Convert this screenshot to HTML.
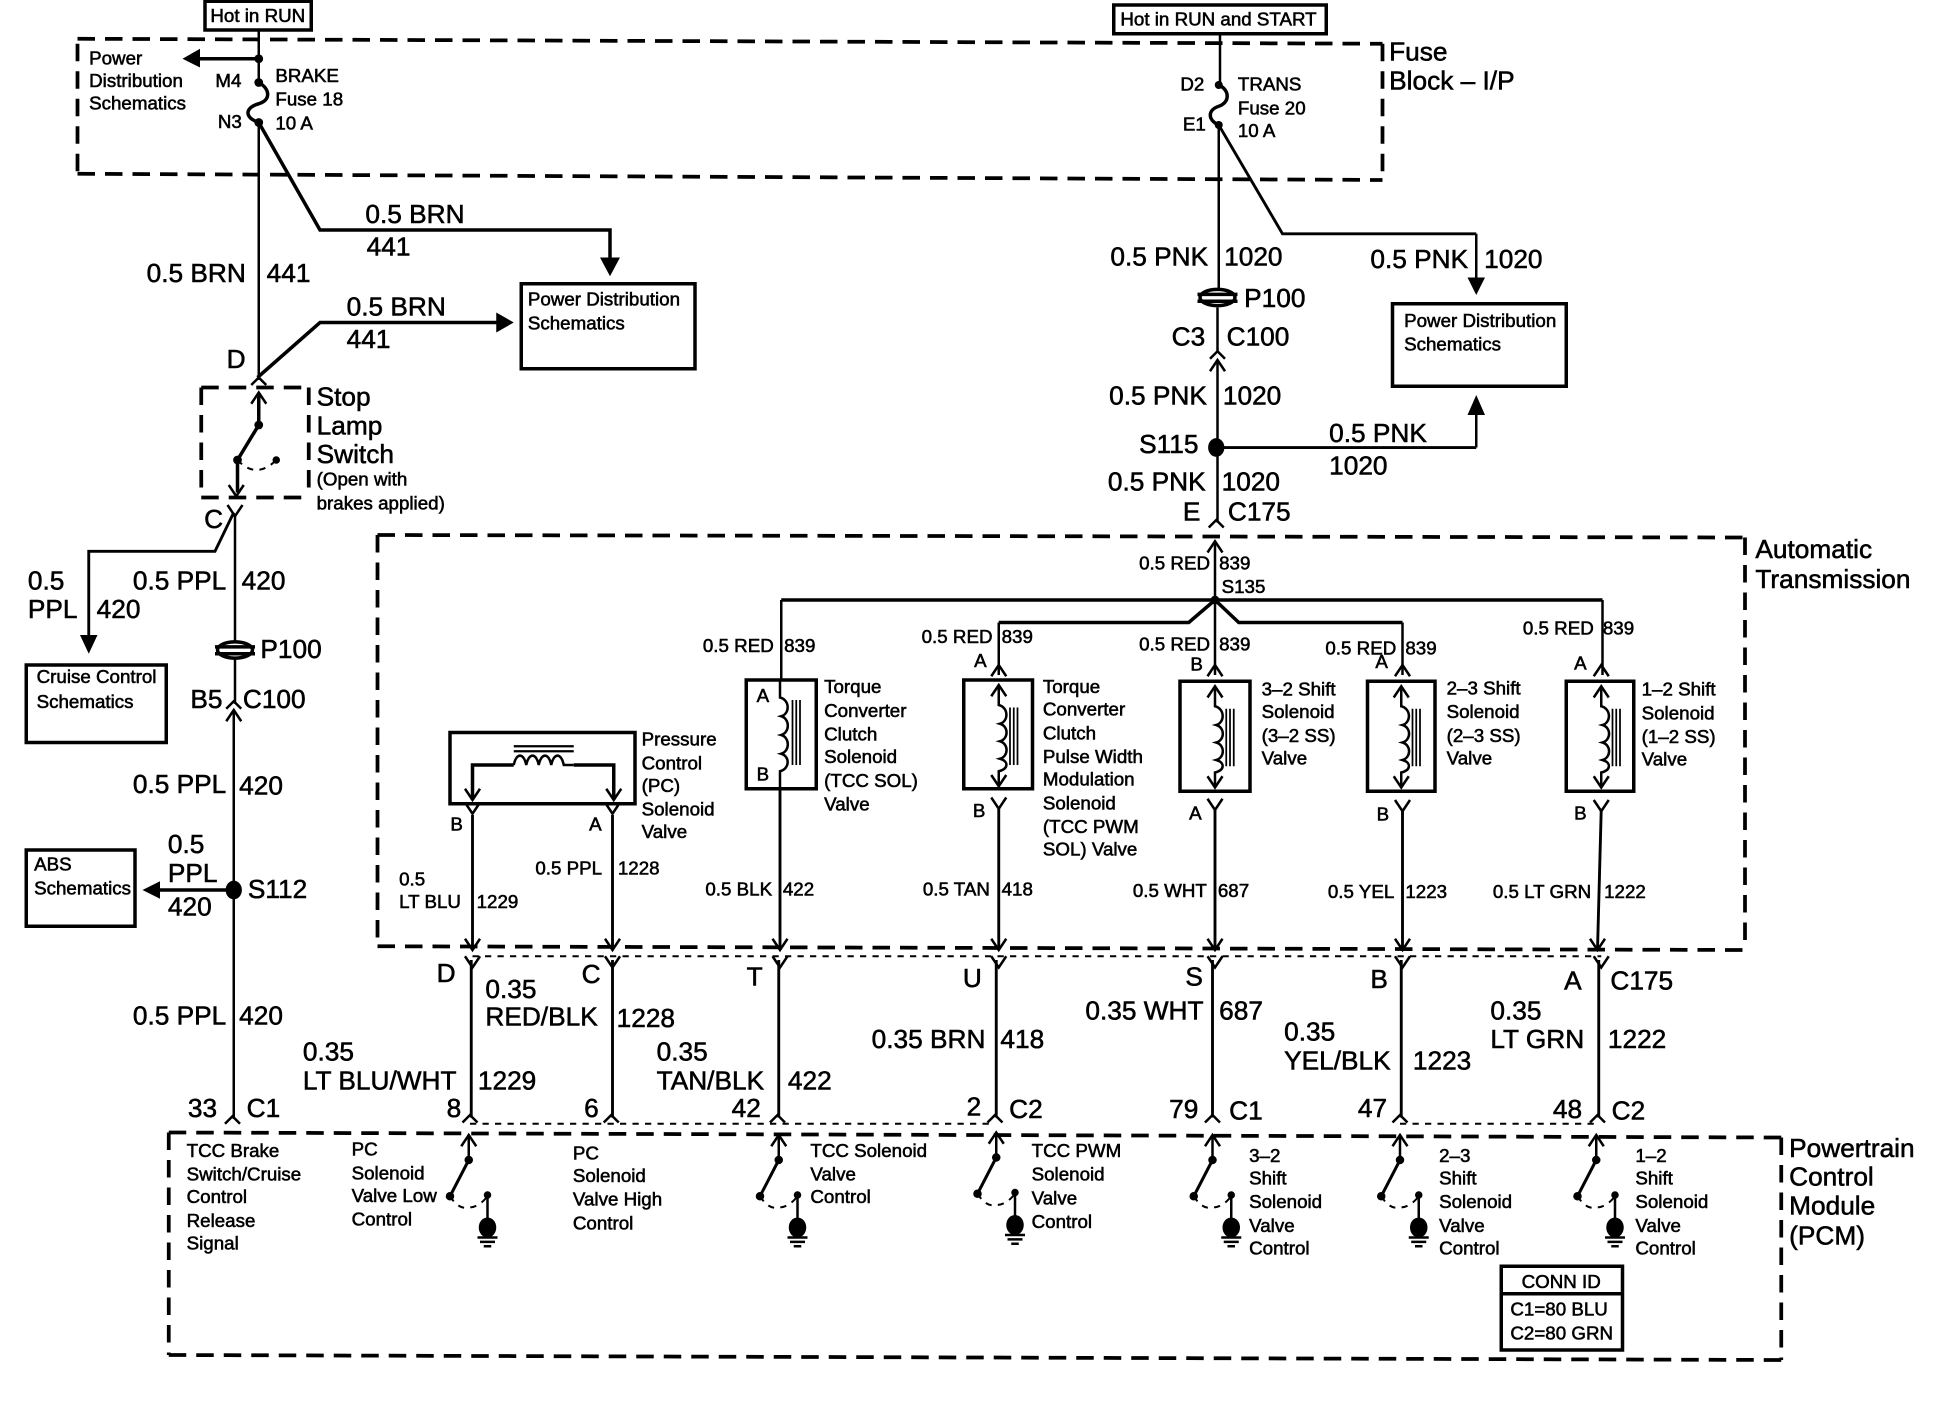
<!DOCTYPE html>
<html><head><meta charset="utf-8"><style>
html,body{margin:0;padding:0;background:#fff;width:1958px;height:1408px;overflow:hidden}
svg{display:block}
text{font-family:"Liberation Sans",sans-serif;fill:#000;stroke:#000;stroke-width:.45;dominant-baseline:central;transform:translate(-.7px,-.8px)}
.b{font-size:21px}.s{font-size:15px}
.w{fill:none;stroke:#000;stroke-width:2}
.m{fill:none;stroke:#000;stroke-width:2.3}
.t{fill:none;stroke:#000;stroke-width:2.8}
.d{fill:none;stroke:#000;stroke-width:3;stroke-dasharray:14 8}
.f{fill:none;stroke:#000;stroke-width:1.6;stroke-dasharray:5 5}
</style></head><body>
<svg width="1958" height="1408" viewBox="0 0 1566.4 1126.4" xmlns="http://www.w3.org/2000/svg">
<defs>
<path id="up" d="M-6,6 L0,0 L6,6" fill="none" stroke="#000" stroke-width="2"/>
<path id="dn" d="M-6,-9 L0,0 L6,-9" fill="none" stroke="#000" stroke-width="2"/>
<path id="pu" d="M-6,9 L0,0 L6,9" fill="none" stroke="#000" stroke-width="2"/>
<g id="sol">
<path d="M0,-2 V14 C8,16 8,27 1,29 C8,31 8,41 1,43 C8,45 8,55 1,57 C8,59 8,65 0,67 V78" fill="none" stroke="#000" stroke-width="2"/>
<path d="M9,16 V62 M12,16 V62 M15,16 V62" fill="none" stroke="#000" stroke-width="1.4"/>
<use href="#pu" x="0" y="-2"/><use href="#dn" x="0" y="79"/>
</g>
<g id="sw">
<path d="M0,0 V-19" class="w"/><use href="#pu" y="-20"/>
<path d="M0,0 L-15,29" fill="none" stroke="#000" stroke-width="2.4"/>
<circle cx="0" cy="0" r="3.4"/><circle cx="-15" cy="29" r="3.4"/>
<circle cx="15" cy="28" r="3"/><path d="M15,28 V50" class="w"/>
<ellipse cx="15" cy="54" rx="7" ry="8"/>
<path d="M7,62 H23 M9,65.5 H21 M12,69 H18" class="w"/>
<path d="M-15,29 Q-8,40 0,38 Q8,38 15,29" class="f"/>
</g>
<g id="p100">
<ellipse cx="0" cy="0" rx="14" ry="6.5" fill="#fff" stroke="#000" stroke-width="2.8"/>
<path d="M-16,-2.5 H16 M-16,3 H16" fill="none" stroke="#000" stroke-width="2.8"/>
</g>
</defs>

<!-- dashed enclosures -->
<path class="d" d="M62,31 L1106,35 M1106,35 V144 M62,139 L1106,144 M62,35 V139"/>
<path class="d" d="M161,310 H247 M247,310 V398 M161,398 H247 M161,310 V398"/>
<path class="d" d="M302,428 L1396,430 M1396,430 V760 M302,757 L1396,760 M302,428 V757"/>
<path class="d" d="M135,906 L1425,910 M1425,910 V1088 M135,1084 L1425,1088 M135,906 V1084"/>
<path class="f" d="M378,765 H1281 M376,899 H796 M1120,899 H1278"/>

<!-- boxes -->
<g class="t">
<rect x="164" y="1" width="85" height="23"/>
<rect x="891" y="4" width="170" height="23"/>
<rect x="417" y="227" width="139" height="68"/>
<rect x="1114" y="243" width="139" height="66"/>
<rect x="21" y="532" width="112" height="62"/>
<rect x="21" y="680" width="87" height="61"/>
<rect x="360" y="586" width="148" height="57"/>
<rect x="597" y="544" width="56" height="87"/>
<rect x="771" y="544" width="55" height="87"/>
<rect x="944" y="545" width="56" height="88"/>
<rect x="1094" y="545" width="54" height="88"/>
<rect x="1253" y="545" width="54" height="88"/>
<rect x="1201" y="1013" width="97" height="67"/>
<path d="M1201,1035 H1298"/>
</g>

<!-- left wires -->
<path class="w" d="M207,24 V66 M207,98 V304"/>
<path class="t" d="M207,47 H158"/><path d="M160,39 L146,47 L160,54 Z"/>
<path d="M207,66 C216,71 217,80 207,83 C196,86 195,94 207,98" class="t"/>
<circle cx="207" cy="47" r="3.5"/><circle cx="207" cy="66" r="3.5"/><circle cx="207" cy="98" r="3.5"/>
<path class="t" d="M207,98 L256,184 H488 V208"/><path d="M480,206 H496 L488,221 Z"/>
<path class="t" d="M206,302 L256,258 H400"/><path d="M397,250 L411,258 L397,266 Z"/>
<use href="#up" x="207" y="302"/>
<path class="t" d="M207,340 V316"/><use href="#pu" x="207" y="314"/>
<path class="t" d="M207,340 L190,368 V394"/><use href="#dn" x="189" y="397"/>
<circle cx="207" cy="340" r="3.5"/><circle cx="190" cy="368" r="3.5"/><circle cx="221" cy="368" r="3"/>
<path class="f" d="M190,368 Q205,384 221,368"/>
<use href="#dn" x="188" y="413"/>
<path class="w" d="M188,413 V514 M188,526 V563 M187,570 V895"/>
<path class="m" d="M187,410 L172,441 H71 V510"/><path d="M64,508 H78 L71,523 Z"/>
<use href="#p100" x="188" y="520"/>
<use href="#up" x="187" y="561"/><use href="#pu" x="187" y="568"/>
<ellipse cx="187" cy="712" rx="6.5" ry="7.5"/>
<path class="t" d="M187,712 H126"/><path d="M128,705 L114,712 L128,719 Z"/>
<use href="#up" x="186" y="893"/>

<!-- right fuse wires -->
<path class="w" d="M976,27 V68 M975,100 V231 M974,246 V282 M974,290 V418 M972,434 V480"/>
<path d="M975,68 C984,72 984,82 975,85 C966,88 966,96 975,100" class="t"/>
<circle cx="975" cy="68" r="3.2"/><circle cx="975" cy="100" r="3.2"/>
<path class="m" d="M975,100 L1026,187 H1181"/><path class="w" d="M1181,187 V224"/><path d="M1174,222 H1188 L1181,236 Z"/>
<use href="#p100" x="974" y="238"/>
<use href="#up" x="974" y="281"/><use href="#pu" x="974" y="288"/>
<ellipse cx="973" cy="358" rx="6.5" ry="7.5"/>
<path class="m" d="M973,358 H1181"/><path class="w" d="M1181,358 V330"/><path d="M1174,332 H1188 L1181,316 Z"/>
<use href="#up" x="973" y="416"/><use href="#pu" x="972" y="433"/>

<!-- transmission harness -->
<circle cx="972" cy="480" r="3.5"/>
<path class="t" d="M625,480 H1282"/>
<path class="w" d="M625,480 V545 M1282,480 V540 M972,480 V540 M799,498 V540 M1122,498 V540"/>
<path class="t" d="M972,480 L951,498 H799 M972,480 L991,498 H1122"/>
<use href="#pu" x="799" y="532"/><use href="#pu" x="972" y="532"/><use href="#pu" x="1122" y="532"/><use href="#pu" x="1281" y="532"/>

<!-- solenoids -->
<path d="M624,545 V558 C632,560 632,571 625,573 C632,575 632,586 625,588 C632,590 632,601 625,603 C632,605 632,615 624,617 V632" fill="none" stroke="#000" stroke-width="2"/>
<path d="M634,560 V612 M637,560 V612 M640,560 V612" class="w" style="stroke-width:1.4"/>
<use href="#sol" x="799" y="550"/><use href="#sol" x="972" y="551"/><use href="#sol" x="1121" y="551"/><use href="#sol" x="1281" y="551"/>

<!-- pressure control -->
<path class="t" d="M378,640 V612 H411 M459,612 H491 V640"/>
<path d="M411,612 C413,602 419,602 421,612 C423,602 429,602 431,612 C433,602 439,602 441,612 C443,602 449,602 451,612 L459,612" fill="none" stroke="#000" stroke-width="2"/>
<path d="M411,597 H459 M411,601 H459" class="t" style="stroke-width:1.8"/>
<use href="#dn" x="378" y="640"/><use href="#dn" x="491" y="640"/>

<!-- columns -->
<path class="m" d="M378,652 V760 M490,652 V760 M624,631 V760 M799,646 V760 M972,647 V760 M1122,647 V760 M1281,647 L1278,760"/>
<g>
<use href="#dn" x="378" y="651"/><use href="#dn" x="490" y="651"/><use href="#dn" x="799" y="647"/><use href="#dn" x="972" y="648"/><use href="#dn" x="1122" y="649"/><use href="#dn" x="1281" y="649"/>
<use href="#dn" x="378" y="760"/><use href="#dn" x="490" y="760"/><use href="#dn" x="624" y="760"/><use href="#dn" x="799" y="760"/><use href="#dn" x="972" y="760"/><use href="#dn" x="1122" y="760"/><use href="#dn" x="1278" y="760"/>
<use href="#dn" x="378" y="774"/><use href="#dn" x="490" y="774"/><use href="#dn" x="624" y="774"/><use href="#dn" x="799" y="774"/><use href="#dn" x="972" y="774"/><use href="#dn" x="1122" y="774"/><use href="#dn" x="1281" y="774"/>
</g>
<path class="m" d="M377,768 V894 M490,768 V894 M623,768 V894 M797,768 V894 M970,768 V894 M1121,768 V894 M1279,768 V894"/>
<use href="#up" x="376" y="892"/><use href="#up" x="489" y="892"/><use href="#up" x="622" y="892"/><use href="#up" x="796" y="892"/><use href="#up" x="970" y="892"/><use href="#up" x="1120" y="892"/><use href="#up" x="1278" y="892"/>

<!-- PCM switches -->
<use href="#sw" x="375" y="928"/><use href="#sw" x="623" y="928"/><use href="#sw" x="797" y="926"/><use href="#sw" x="970" y="928"/><use href="#sw" x="1120" y="928"/><use href="#sw" x="1277" y="928"/>

<!-- Text: top left -->
<text class="s" x="169" y="13">Hot in RUN</text>
<text class="s" x="72" y="47">Power</text><text class="s" x="72" y="65">Distribution</text><text class="s" x="72" y="83">Schematics</text>
<text class="s" x="173" y="65">M4</text><text class="s" x="175" y="98">N3</text>
<text class="s" x="221" y="61">BRAKE</text><text class="s" x="221" y="80">Fuse 18</text><text class="s" x="221" y="99">10 A</text>
<text class="b" x="293" y="172">0.5 BRN</text><text class="b" x="294" y="198">441</text>
<text class="b" x="118" y="219">0.5 BRN</text><text class="b" x="214" y="219">441</text>
<text class="b" x="278" y="246">0.5 BRN</text><text class="b" x="278" y="272">441</text>
<text class="s" x="423" y="240">Power Distribution</text><text class="s" x="423" y="259">Schematics</text>
<text class="b" x="182" y="288">D</text>
<text class="b" x="254" y="318">Stop</text><text class="b" x="254" y="341">Lamp</text><text class="b" x="254" y="364">Switch</text>
<text class="s" x="254" y="384">(Open with</text><text class="s" x="254" y="403">brakes applied)</text>
<text class="b" x="164" y="416">C</text>
<text class="b" x="23" y="465">0.5</text><text class="b" x="23" y="488">PPL</text><text class="b" x="78" y="488">420</text>
<text class="b" x="107" y="465">0.5 PPL</text><text class="b" x="194" y="465">420</text>
<text class="b" x="209" y="520">P100</text>
<text class="b" x="153" y="560">B5</text><text class="b" x="195" y="560">C100</text>
<text class="s" x="30" y="542">Cruise Control</text><text class="s" x="30" y="562">Schematics</text>
<text class="b" x="107" y="628">0.5 PPL</text><text class="b" x="192" y="629">420</text>
<text class="s" x="28" y="692">ABS</text><text class="s" x="28" y="711">Schematics</text>
<text class="b" x="135" y="676">0.5</text><text class="b" x="135" y="699">PPL</text><text class="b" x="135" y="726">420</text>
<text class="b" x="199" y="712">S112</text>
<text class="b" x="107" y="813">0.5 PPL</text><text class="b" x="192" y="813">420</text>
<text class="b" x="151" y="887">33</text><text class="b" x="198" y="887">C1</text>

<!-- Text: top right -->
<text class="s" x="897" y="16">Hot in RUN and START</text>
<text class="s" x="945" y="68">D2</text><text class="s" x="947" y="100">E1</text>
<text class="s" x="991" y="68">TRANS</text><text class="s" x="991" y="87">Fuse 20</text><text class="s" x="991" y="105">10 A</text>
<text class="b" x="1112" y="42">Fuse</text><text class="b" x="1112" y="65">Block – I/P</text>
<text class="b" x="889" y="206">0.5 PNK</text><text class="b" x="980" y="206">1020</text>
<text class="b" x="1097" y="208">0.5 PNK</text><text class="b" x="1188" y="208">1020</text>
<text class="s" x="1124" y="257">Power Distribution</text><text class="s" x="1124" y="276">Schematics</text>
<text class="b" x="996" y="239">P100</text>
<text class="b" x="938" y="270">C3</text><text class="b" x="982" y="270">C100</text>
<text class="b" x="888" y="317">0.5 PNK</text><text class="b" x="979" y="317">1020</text>
<text class="b" x="912" y="356">S115</text>
<text class="b" x="1064" y="347">0.5 PNK</text><text class="b" x="1064" y="373">1020</text>
<text class="b" x="887" y="386">0.5 PNK</text><text class="b" x="978" y="386">1020</text>
<text class="b" x="947" y="410">E</text><text class="b" x="983" y="410">C175</text>

<!-- Text: transmission -->
<text class="b" x="1405" y="440">Automatic</text><text class="b" x="1405" y="464">Transmission</text>
<text class="s" x="912" y="451">0.5 RED</text><text class="s" x="976" y="451">839</text><text class="s" x="978" y="470">S135</text>
<text class="s" x="563" y="517">0.5 RED</text><text class="s" x="628" y="517">839</text>
<text class="s" x="738" y="510">0.5 RED</text><text class="s" x="802" y="510">839</text><text class="s" x="780" y="529">A</text>
<text class="s" x="912" y="516">0.5 RED</text><text class="s" x="976" y="516">839</text><text class="s" x="953" y="532">B</text>
<text class="s" x="1061" y="519">0.5 RED</text><text class="s" x="1125" y="519">839</text><text class="s" x="1101" y="530">A</text>
<text class="s" x="1219" y="503">0.5 RED</text><text class="s" x="1283" y="503">839</text><text class="s" x="1260" y="531">A</text>
<text class="s" x="514" y="592">Pressure</text><text class="s" x="514" y="611">Control</text><text class="s" x="514" y="629">(PC)</text><text class="s" x="514" y="648">Solenoid</text><text class="s" x="514" y="666">Valve</text>
<text class="s" x="361" y="660">B</text><text class="s" x="472" y="660">A</text>
<text class="s" x="320" y="704">0.5</text><text class="s" x="320" y="722">LT BLU</text><text class="s" x="382" y="722">1229</text>
<text class="s" x="429" y="695">0.5 PPL</text><text class="s" x="495" y="695">1228</text>
<text class="s" x="606" y="557">A</text><text class="s" x="606" y="620">B</text>
<text class="s" x="660" y="550">Torque</text><text class="s" x="660" y="569">Converter</text><text class="s" x="660" y="588">Clutch</text><text class="s" x="660" y="606">Solenoid</text><text class="s" x="660" y="625">(TCC SOL)</text><text class="s" x="660" y="644">Valve</text>
<text class="s" x="565" y="712">0.5 BLK</text><text class="s" x="627" y="712">422</text>
<text class="s" x="835" y="550">Torque</text><text class="s" x="835" y="568">Converter</text><text class="s" x="835" y="587">Clutch</text><text class="s" x="835" y="606">Pulse Width</text><text class="s" x="835" y="624">Modulation</text><text class="s" x="835" y="643">Solenoid</text><text class="s" x="835" y="662">(TCC PWM</text><text class="s" x="835" y="680">SOL) Valve</text>
<text class="s" x="779" y="649">B</text>
<text class="s" x="739" y="712">0.5 TAN</text><text class="s" x="802" y="712">418</text>
<text class="s" x="1010" y="552">3–2 Shift</text><text class="s" x="1010" y="570">Solenoid</text><text class="s" x="1010" y="589">(3–2 SS)</text><text class="s" x="1010" y="607">Valve</text>
<text class="s" x="952" y="651">A</text>
<text class="s" x="907" y="713">0.5 WHT</text><text class="s" x="975" y="713">687</text>
<text class="s" x="1158" y="551">2–3 Shift</text><text class="s" x="1158" y="570">Solenoid</text><text class="s" x="1158" y="589">(2–3 SS)</text><text class="s" x="1158" y="607">Valve</text>
<text class="s" x="1102" y="652">B</text>
<text class="s" x="1063" y="714">0.5 YEL</text><text class="s" x="1125" y="714">1223</text>
<text class="s" x="1314" y="552">1–2 Shift</text><text class="s" x="1314" y="571">Solenoid</text><text class="s" x="1314" y="590">(1–2 SS)</text><text class="s" x="1314" y="608">Valve</text>
<text class="s" x="1260" y="651">B</text>
<text class="s" x="1195" y="714">0.5 LT GRN</text><text class="s" x="1284" y="714">1222</text>

<!-- Text: lower harness -->
<text class="b" x="350" y="779">D</text><text class="b" x="466" y="780">C</text><text class="b" x="598" y="782">T</text><text class="b" x="771" y="783">U</text><text class="b" x="949" y="782">S</text><text class="b" x="1097" y="784">B</text><text class="b" x="1252" y="785">A</text><text class="b" x="1289" y="785">C175</text>
<text class="b" x="389" y="792">0.35</text><text class="b" x="389" y="814">RED/BLK</text><text class="b" x="494" y="815">1228</text>
<text class="b" x="526" y="842">0.35</text><text class="b" x="526" y="865">TAN/BLK</text><text class="b" x="631" y="865">422</text>
<text class="b" x="243" y="842">0.35</text><text class="b" x="243" y="865">LT BLU/WHT</text><text class="b" x="383" y="865">1229</text>
<text class="b" x="698" y="832">0.35 BRN</text><text class="b" x="801" y="832">418</text>
<text class="b" x="869" y="809">0.35 WHT</text><text class="b" x="976" y="809">687</text>
<text class="b" x="1028" y="826">0.35</text><text class="b" x="1028" y="849">YEL/BLK</text><text class="b" x="1131" y="849">1223</text>
<text class="b" x="1193" y="809">0.35</text><text class="b" x="1193" y="832">LT GRN</text><text class="b" x="1287" y="832">1222</text>
<text class="b" x="358" y="887">8</text><text class="b" x="468" y="887">6</text><text class="b" x="586" y="887">42</text><text class="b" x="774" y="886">2</text><text class="b" x="808" y="888">C2</text><text class="b" x="936" y="888">79</text><text class="b" x="984" y="889">C1</text><text class="b" x="1087" y="887">47</text><text class="b" x="1243" y="888">48</text><text class="b" x="1290" y="889">C2</text>

<!-- Text: PCM -->
<text class="s" x="150" y="921">TCC Brake</text><text class="s" x="150" y="940">Switch/Cruise</text><text class="s" x="150" y="958">Control</text><text class="s" x="150" y="977">Release</text><text class="s" x="150" y="995">Signal</text>
<text class="s" x="282" y="920">PC</text><text class="s" x="282" y="939">Solenoid</text><text class="s" x="282" y="957">Valve Low</text><text class="s" x="282" y="976">Control</text>
<text class="s" x="459" y="923">PC</text><text class="s" x="459" y="941">Solenoid</text><text class="s" x="459" y="960">Valve High</text><text class="s" x="459" y="979">Control</text>
<text class="s" x="649" y="921">TCC Solenoid</text><text class="s" x="649" y="940">Valve</text><text class="s" x="649" y="958">Control</text>
<text class="s" x="826" y="921">TCC PWM</text><text class="s" x="826" y="940">Solenoid</text><text class="s" x="826" y="959">Valve</text><text class="s" x="826" y="978">Control</text>
<text class="s" x="1000" y="925">3–2</text><text class="s" x="1000" y="943">Shift</text><text class="s" x="1000" y="962">Solenoid</text><text class="s" x="1000" y="981">Valve</text><text class="s" x="1000" y="999">Control</text>
<text class="s" x="1152" y="925">2–3</text><text class="s" x="1152" y="943">Shift</text><text class="s" x="1152" y="962">Solenoid</text><text class="s" x="1152" y="981">Valve</text><text class="s" x="1152" y="999">Control</text>
<text class="s" x="1309" y="925">1–2</text><text class="s" x="1309" y="943">Shift</text><text class="s" x="1309" y="962">Solenoid</text><text class="s" x="1309" y="981">Valve</text><text class="s" x="1309" y="999">Control</text>
<text class="b" x="1432" y="919">Powertrain</text><text class="b" x="1432" y="942">Control</text><text class="b" x="1432" y="965">Module</text><text class="b" x="1432" y="989">(PCM)</text>
<text class="s" x="1218" y="1026">CONN ID</text><text class="s" x="1209" y="1048">C1=80 BLU</text><text class="s" x="1209" y="1067">C2=80 GRN</text>
</svg>
</body></html>
